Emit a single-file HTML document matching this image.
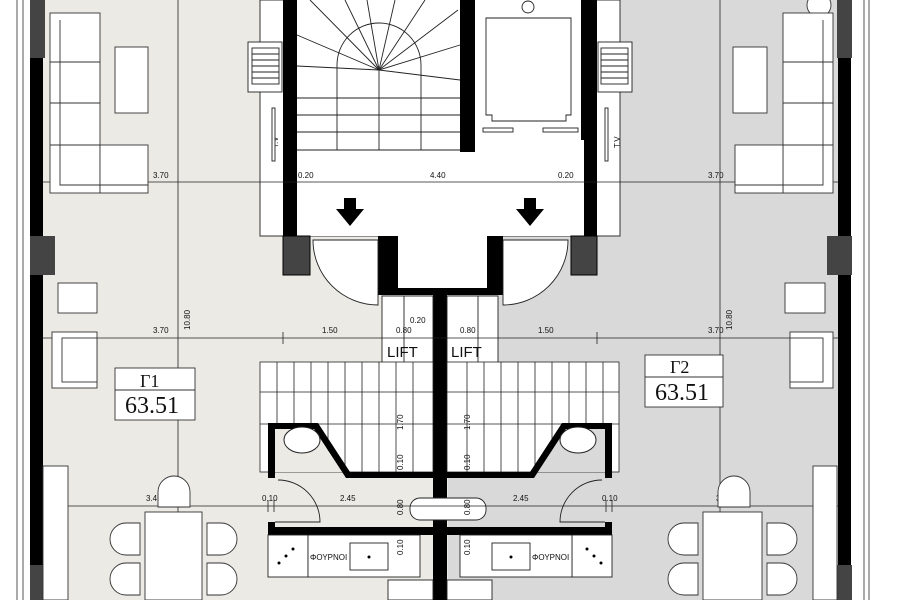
<!DOCTYPE html>
<html><head><meta charset="utf-8"><style>html,body{margin:0;padding:0;background:#fff}svg{display:block}</style></head>
<body>
<svg width="900" height="600" viewBox="0 0 900 600" xmlns="http://www.w3.org/2000/svg" font-family="Liberation Sans, sans-serif">
<rect width="900" height="600" fill="#fff"/>
<rect x="43" y="0" width="240" height="600" fill="#ebeae5"/>
<rect x="283" y="236" width="165" height="364" fill="#ebeae5"/>
<rect x="448" y="236" width="150" height="364" fill="#d9d9d9"/>
<rect x="597" y="0" width="242" height="600" fill="#d9d9d9"/>
<rect x="260" y="0" width="360" height="236" fill="#fff" stroke="#333" stroke-width="1"/>
<rect x="296" y="0" width="290" height="236" fill="#fff"/>
<rect x="398" y="236" width="89" height="52" fill="#fff"/>
<g stroke="#555" stroke-width="1">
<line x1="17" y1="0" x2="17" y2="600"/><line x1="23" y1="0" x2="23" y2="600"/>
<line x1="864" y1="0" x2="864" y2="600"/><line x1="869" y1="0" x2="869" y2="600"/>
</g>
<rect x="30" y="0" width="13" height="600" fill="#000"/>
<rect x="30" y="0" width="15" height="58" fill="#444"/>
<rect x="30" y="236" width="25" height="39" fill="#444"/>
<rect x="30" y="565" width="15" height="35" fill="#444"/>
<rect x="838" y="0" width="13" height="600" fill="#000"/>
<rect x="837" y="0" width="15" height="58" fill="#444"/>
<rect x="827" y="236" width="25" height="39" fill="#444"/>
<rect x="837" y="565" width="15" height="35" fill="#444"/>
<rect x="283" y="0" width="14" height="236" fill="#000"/>
<rect x="283" y="236" width="27" height="39" fill="#444" stroke="#000"/>
<rect x="584" y="0" width="13" height="236" fill="#000"/>
<rect x="571" y="236" width="26" height="39" fill="#444" stroke="#000"/>
<rect x="460" y="0" width="15" height="152" fill="#000"/>
<rect x="581" y="0" width="16" height="140" fill="#000"/>
<g stroke="#222" stroke-width="0.9" fill="none">
<path d="M337 150 V65 A42 42 0 0 1 421 65 V150"/>
<line x1="379" y1="70" x2="379" y2="150"/>
<line x1="297" y1="98" x2="460" y2="98"/><line x1="297" y1="115" x2="460" y2="115"/><line x1="297" y1="132" x2="460" y2="132"/><line x1="297" y1="150" x2="460" y2="150"/>
<line x1="379" y1="70" x2="310" y2="0"/><line x1="379" y1="70" x2="345" y2="0"/><line x1="379" y1="70" x2="367" y2="0"/><line x1="379" y1="70" x2="395" y2="0"/><line x1="379" y1="70" x2="425" y2="0"/><line x1="379" y1="70" x2="458" y2="10"/>
<line x1="379" y1="70" x2="297" y2="35"/><line x1="379" y1="70" x2="297" y2="66"/><line x1="379" y1="70" x2="460" y2="45"/><line x1="379" y1="70" x2="460" y2="80"/>
</g>
<g stroke="#222" stroke-width="0.9" fill="#fff">
<circle cx="528" cy="7" r="6"/>
<path d="M486 18 H571 V115 H566 V121 H492 V115 H486 Z"/>
<rect x="483" y="128" width="30" height="4"/><rect x="543" y="128" width="35" height="4"/>
</g>
<line x1="43" y1="182" x2="838" y2="182" stroke="#222" stroke-width="0.8"/>
<path d="M344 198 H356 V209 H364 L350 226 L336 209 H344 Z" fill="#000"/>
<path d="M524 198 H536 V209 H544 L530 226 L516 209 H524 Z" fill="#000"/>
<path d="M378 236 H398 V288 H487 V236 H503 V295 H447 V600 H433 V295 H378 Z" fill="#000"/>
<g stroke="#222" stroke-width="0.9" fill="#fff">
<path d="M378 240 L313 240 A65 65 0 0 0 378 305 Z"/>
<path d="M503 240 L568 240 A65 65 0 0 1 503 305 Z"/>
</g>
<g stroke="#222" stroke-width="0.9" fill="#fff">
<rect x="382" y="296" width="51" height="68"/><rect x="447" y="296" width="51" height="68"/>
<line x1="404" y1="296" x2="404" y2="364"/><line x1="478" y1="296" x2="478" y2="364"/>
</g>
<text x="387" y="357" font-size="15" fill="#111">LIFT</text><text x="451" y="357" font-size="15" fill="#111">LIFT</text>
<g stroke="#222" stroke-width="0.8" fill="#fff">
<rect x="260" y="362" width="173" height="110"/><rect x="447" y="362" width="172" height="110"/>
<path d="M277 362V472M294 362V472M311 362V472M328 362V472M345 362V472M362 362V472M379 362V472M396 362V472M413 362V472M260 392H433M260 424H433"/>
<path d="M467 362V472M484 362V472M501 362V472M518 362V472M535 362V472M552 362V472M569 362V472M586 362V472M603 362V472M447 392H619M447 424H619"/>
</g>
<path d="M268 423 H318 L350 472 H433 V478 H346 L314 429 H275 V478 H268 Z" fill="#000"/>
<path d="M275 429 H314 L342 472 H275Z" fill="#ebeae5"/>
<path d="M612 423 H562 L530 472 H447 V478 H534 L566 429 H605 V478 H612 Z" fill="#000"/>
<path d="M605 429 H566 L538 472 H605Z" fill="#d9d9d9"/>
<ellipse cx="302" cy="440" rx="18" ry="13" fill="#fff" stroke="#222"/><ellipse cx="578" cy="440" rx="18" ry="13" fill="#fff" stroke="#222"/>
<g stroke="#222" stroke-width="0.9" fill="none">
<path d="M278 480 A42 42 0 0 1 320 522 H275"/>
<path d="M602 480 A42 42 0 0 0 560 522 H605"/>
</g>
<path d="M268 522 H275 V527 H433 V535 H268 Z" fill="#000"/>
<path d="M612 522 H605 V527 H447 V535 H612 Z" fill="#000"/>
<g stroke="#222" stroke-width="0.9" fill="#fff">
<rect x="268" y="535" width="40" height="42"/><rect x="308" y="535" width="112" height="42"/><rect x="350" y="543" width="38" height="27"/>
<rect x="572" y="535" width="40" height="42"/><rect x="460" y="535" width="112" height="42"/><rect x="492" y="543" width="38" height="27"/>
<rect x="388" y="580" width="45" height="20"/><rect x="447" y="580" width="45" height="20"/>
<rect x="410" y="498" width="76" height="22" rx="10"/>
</g>
<text x="310" y="560" font-size="8" fill="#111">ΦΟΥΡΝΟΙ</text><text x="532" y="560" font-size="8" fill="#111">ΦΟΥΡΝΟΙ</text>
<g fill="#000"><circle cx="293" cy="549" r="1.5"/><circle cx="286" cy="556" r="1.5"/><circle cx="279" cy="563" r="1.5"/><circle cx="587" cy="549" r="1.5"/><circle cx="594" cy="556" r="1.5"/><circle cx="601" cy="563" r="1.5"/><circle cx="369" cy="557" r="1.5"/><circle cx="511" cy="557" r="1.5"/></g>
<g stroke="#222" stroke-width="0.8">
<line x1="43" y1="338" x2="838" y2="338"/><line x1="43" y1="506" x2="838" y2="506"/>
<line x1="178" y1="0" x2="178" y2="600"/><line x1="720" y1="0" x2="720" y2="600"/>
<line x1="283" y1="332" x2="283" y2="344"/><line x1="597" y1="332" x2="597" y2="344"/>
<line x1="268" y1="500" x2="268" y2="512"/><line x1="274" y1="500" x2="274" y2="512"/><line x1="606" y1="500" x2="606" y2="512"/><line x1="612" y1="500" x2="612" y2="512"/>
</g>
<g font-size="8" fill="#111">
<text x="153" y="178">3.70</text><text x="298" y="178">0.20</text><text x="430" y="178">4.40</text><text x="558" y="178">0.20</text><text x="708" y="178">3.70</text>
<text x="153" y="333">3.70</text><text x="322" y="333">1.50</text><text x="410" y="323">0.20</text><text x="396" y="333">0.80</text><text x="460" y="333">0.80</text><text x="538" y="333">1.50</text><text x="708" y="333">3.70</text>
<text x="146" y="501">3.45</text><text x="262" y="501">0.10</text><text x="340" y="501">2.45</text><text x="513" y="501">2.45</text><text x="602" y="501">0.10</text><text x="716" y="501">3.45</text>
<text transform="translate(190,330) rotate(-90)">10.80</text><text transform="translate(732,330) rotate(-90)">10.80</text>
<text transform="translate(403,430) rotate(-90)">1.70</text><text transform="translate(470,430) rotate(-90)">1.70</text>
<text transform="translate(403,470) rotate(-90)">0.10</text><text transform="translate(470,470) rotate(-90)">0.10</text>
<text transform="translate(403,515) rotate(-90)">0.80</text><text transform="translate(470,515) rotate(-90)">0.80</text>
<text transform="translate(403,555) rotate(-90)">0.10</text><text transform="translate(470,555) rotate(-90)">0.10</text>
<text transform="translate(278,148) rotate(-90)">T.V</text><text transform="translate(620,148) rotate(-90)">T.V</text>
</g>
<g stroke="#222" stroke-width="0.9" fill="#fff">
<rect x="248" y="42" width="34" height="50"/><rect x="252" y="48" width="27" height="36"/>
<path d="M252 54H279M252 60H279M252 66H279M252 72H279M252 78H279"/>
<rect x="598" y="42" width="34" height="50"/><rect x="601" y="48" width="27" height="36"/>
<path d="M601 54H628M601 60H628M601 66H628M601 72H628M601 78H628"/>
<rect x="272" y="108" width="3" height="53"/><rect x="605" y="108" width="3" height="53"/>
</g>
<g stroke="#333" stroke-width="0.9" fill="#fff">
<rect x="50" y="13" width="50" height="180"/><rect x="100" y="145" width="48" height="48"/>
<path fill="none" d="M50 62H100M50 103H100M50 145H100M60 20V185H148"/>
<rect x="115" y="47" width="33" height="66"/>
<rect x="58" y="283" width="39" height="30"/>
<rect x="52" y="332" width="45" height="56"/><rect x="62" y="338" width="35" height="44"/>
<rect x="43" y="466" width="25" height="134"/>
<rect x="145" y="512" width="57" height="88"/>
<path d="M158 507V492A16 16 0 0 1 190 492V507Z"/>
<path d="M140 523H126A16 16 0 0 0 126 555H140Z"/><path d="M140 563H126A16 16 0 0 0 126 595H140Z"/>
<path d="M207 523H221A16 16 0 0 1 221 555H207Z"/><path d="M207 563H221A16 16 0 0 1 221 595H207Z"/>
<rect x="115" y="368" width="80" height="52"/><line x1="115" y1="390" x2="195" y2="390"/>
</g>
<g stroke="#333" stroke-width="0.9" fill="#fff">
<circle cx="819" cy="5" r="12"/>
<rect x="783" y="13" width="50" height="180"/><rect x="735" y="145" width="48" height="48"/>
<path fill="none" d="M783 62H833M783 103H833M783 145H833M823 20V185H735"/>
<rect x="733" y="47" width="34" height="66"/>
<rect x="785" y="283" width="40" height="30"/>
<rect x="790" y="332" width="43" height="56"/><rect x="790" y="338" width="33" height="44"/>
<rect x="813" y="466" width="24" height="134"/>
<rect x="703" y="512" width="59" height="88"/>
<path d="M718 507V492A16 16 0 0 1 750 492V507Z"/>
<path d="M698 523H684A16 16 0 0 0 684 555H698Z"/><path d="M698 563H684A16 16 0 0 0 684 595H698Z"/>
<path d="M767 523H781A16 16 0 0 1 781 555H767Z"/><path d="M767 563H781A16 16 0 0 1 781 595H767Z"/>
<rect x="645" y="355" width="78" height="52"/><line x1="645" y1="377" x2="723" y2="377"/>
</g>
<g font-family="Liberation Serif, serif" fill="#111">
<text x="140" y="387" font-size="18">Γ1</text><text x="125" y="413" font-size="24">63.51</text>
<text x="670" y="373" font-size="18">Γ2</text><text x="655" y="400" font-size="24">63.51</text>
</g>
</svg>
</body></html>
